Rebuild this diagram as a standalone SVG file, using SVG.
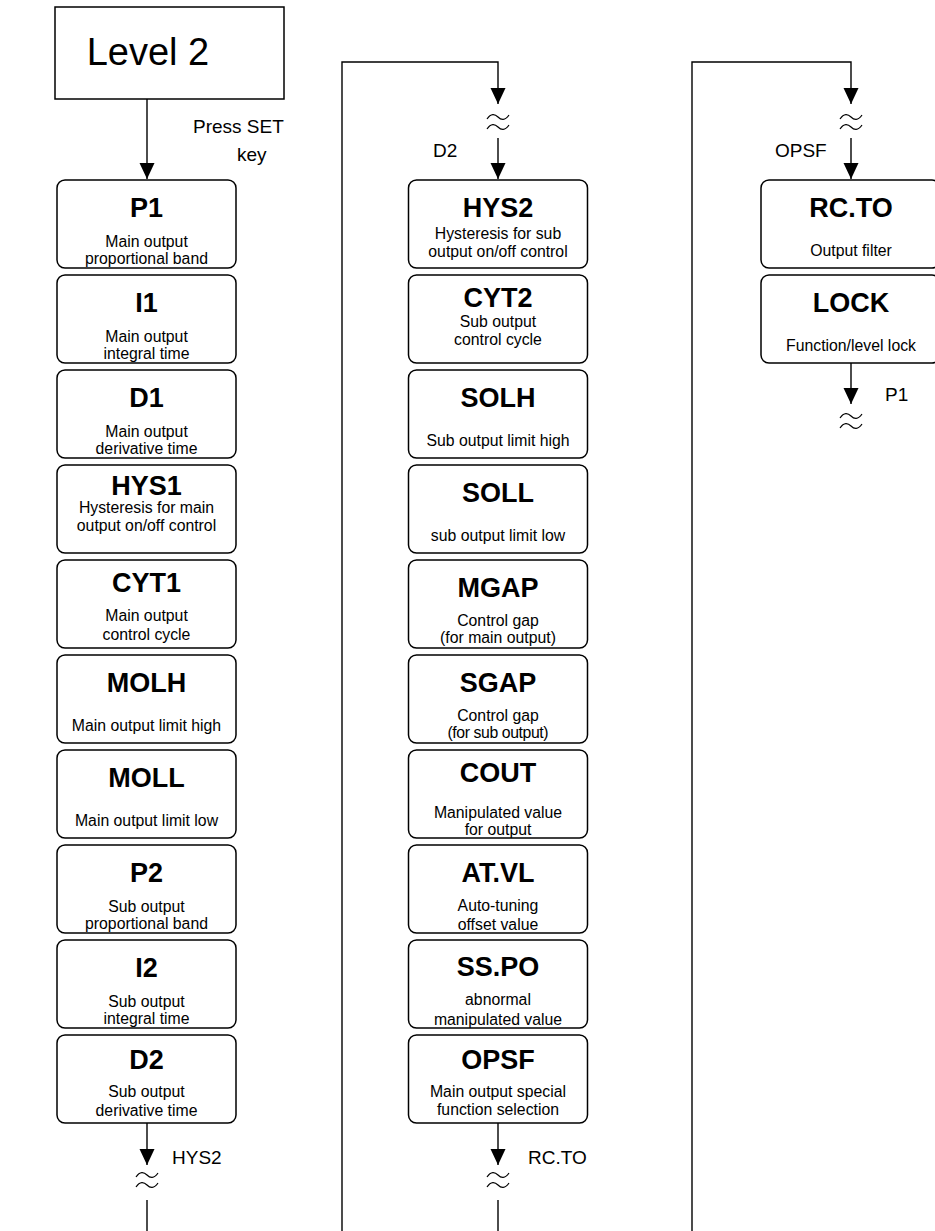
<svg xmlns="http://www.w3.org/2000/svg" width="935" height="1231" viewBox="0 0 935 1231">
<style>
text{font-family:"Liberation Sans",Arial,sans-serif;fill:#000}
.box{fill:#fff;stroke:#000;stroke-width:1.5}
.t{font-size:27px;font-weight:bold;text-anchor:middle}
.s{font-size:15.8px;text-anchor:middle}
.lbl{font-size:19px}
.ln{fill:none;stroke:#000;stroke-width:1.4}
.sq{fill:none;stroke:#000;stroke-width:1.2}
</style>
<defs>
<marker id="ah" markerUnits="userSpaceOnUse" markerWidth="16" markerHeight="16" refX="16" refY="7.5" orient="auto">
<path d="M0,0 L16,7.5 L0,15 Z" fill="#000"/>
</marker>
<path id="sq" d="M-11,2 C-7,-4 -3,-3 0,0 C3,3 7,4 11,-2"/>
</defs>
<rect width="935" height="1231" fill="#fff"/>

<g id="connectors">
<line class="ln" x1="147" y1="99" x2="147" y2="179" marker-end="url(#ah)"/>
<line class="ln" x1="147" y1="1123" x2="147" y2="1165" marker-end="url(#ah)"/>
<use href="#sq" class="sq" x="147" y="1175"/>
<use href="#sq" class="sq" x="147" y="1185"/>
<line class="ln" x1="147" y1="1200" x2="147" y2="1231"/>
<polyline class="ln" points="342,1231 342,62 498,62 498,104" marker-end="url(#ah)"/>
<use href="#sq" class="sq" x="498" y="117"/>
<use href="#sq" class="sq" x="498" y="127"/>
<line class="ln" x1="498" y1="138" x2="498" y2="179" marker-end="url(#ah)"/>
<line class="ln" x1="498" y1="1123" x2="498" y2="1165" marker-end="url(#ah)"/>
<use href="#sq" class="sq" x="498" y="1175"/>
<use href="#sq" class="sq" x="498" y="1185"/>
<line class="ln" x1="498" y1="1200" x2="498" y2="1231"/>
<polyline class="ln" points="692,1231 692,62 851,62 851,104" marker-end="url(#ah)"/>
<use href="#sq" class="sq" x="851" y="117"/>
<use href="#sq" class="sq" x="851" y="127"/>
<line class="ln" x1="851" y1="138" x2="851" y2="179" marker-end="url(#ah)"/>
<line class="ln" x1="851" y1="363" x2="851" y2="404" marker-end="url(#ah)"/>
<use href="#sq" class="sq" x="851" y="416"/>
<use href="#sq" class="sq" x="851" y="426"/>
<text class="lbl" x="193" y="133">Press SET</text>
<text class="lbl" x="237" y="161">key</text>
<text class="lbl" x="172" y="1164">HYS2</text>
<text class="lbl" x="433" y="157">D2</text>
<text class="lbl" x="528" y="1164">RC.TO</text>
<text class="lbl" x="775" y="157">OPSF</text>
<text class="lbl" x="885" y="401">P1</text>
</g>

<g id="n-level2">
<rect x="55" y="7" width="229" height="92" fill="#fff" stroke="#000" stroke-width="1.5"/>
<text x="148" y="65" font-size="38" text-anchor="middle">Level 2</text>
</g>

<g id="n-P1"><rect class="box" x="57" y="180" width="179" height="88" rx="8"/>
<text class="t" x="146.5" y="217">P1</text><text class="s" x="146.5" y="247">Main output</text><text class="s" x="146.5" y="264">proportional band</text></g>
<g id="n-I1"><rect class="box" x="57" y="275" width="179" height="88" rx="8"/>
<text class="t" x="146.5" y="312">I1</text><text class="s" x="146.5" y="342">Main output</text><text class="s" x="146.5" y="359">integral time</text></g>
<g id="n-D1"><rect class="box" x="57" y="370" width="179" height="88" rx="8"/>
<text class="t" x="146.5" y="407">D1</text><text class="s" x="146.5" y="437">Main output</text><text class="s" x="146.5" y="454">derivative time</text></g>
<g id="n-HYS1"><rect class="box" x="57" y="465" width="179" height="88" rx="8"/>
<text class="t" x="146.5" y="495">HYS1</text><text class="s" x="146.5" y="513">Hysteresis for main</text><text class="s" x="146.5" y="531">output on/off control</text></g>
<g id="n-CYT1"><rect class="box" x="57" y="560" width="179" height="88" rx="8"/>
<text class="t" x="146.5" y="592">CYT1</text><text class="s" x="146.5" y="621">Main output</text><text class="s" x="146.5" y="640">control cycle</text></g>
<g id="n-MOLH"><rect class="box" x="57" y="655" width="179" height="88" rx="8"/>
<text class="t" x="146.5" y="692">MOLH</text><text class="s" x="146.5" y="731">Main output limit high</text></g>
<g id="n-MOLL"><rect class="box" x="57" y="750" width="179" height="88" rx="8"/>
<text class="t" x="146.5" y="787">MOLL</text><text class="s" x="146.5" y="826">Main output limit low</text></g>
<g id="n-P2"><rect class="box" x="57" y="845" width="179" height="88" rx="8"/>
<text class="t" x="146.5" y="882">P2</text><text class="s" x="146.5" y="912">Sub output</text><text class="s" x="146.5" y="929">proportional band</text></g>
<g id="n-I2"><rect class="box" x="57" y="940" width="179" height="88" rx="8"/>
<text class="t" x="146.5" y="977">I2</text><text class="s" x="146.5" y="1007">Sub output</text><text class="s" x="146.5" y="1024">integral time</text></g>
<g id="n-D2"><rect class="box" x="57" y="1035" width="179" height="88" rx="8"/>
<text class="t" x="146.5" y="1069">D2</text><text class="s" x="146.5" y="1097">Sub output</text><text class="s" x="146.5" y="1116">derivative time</text></g>

<g id="n-HYS2"><rect class="box" x="408.5" y="180" width="179" height="88" rx="8"/>
<text class="t" x="498" y="217">HYS2</text><text class="s" x="498" y="239">Hysteresis for sub</text><text class="s" x="498" y="257">output on/off control</text></g>
<g id="n-CYT2"><rect class="box" x="408.5" y="275" width="179" height="88" rx="8"/>
<text class="t" x="498" y="307">CYT2</text><text class="s" x="498" y="327">Sub output</text><text class="s" x="498" y="345">control cycle</text></g>
<g id="n-SOLH"><rect class="box" x="408.5" y="370" width="179" height="88" rx="8"/>
<text class="t" x="498" y="407">SOLH</text><text class="s" x="498" y="446">Sub output limit high</text></g>
<g id="n-SOLL"><rect class="box" x="408.5" y="465" width="179" height="88" rx="8"/>
<text class="t" x="498" y="502">SOLL</text><text class="s" x="498" y="541">sub output limit low</text></g>
<g id="n-MGAP"><rect class="box" x="408.5" y="560" width="179" height="88" rx="8"/>
<text class="t" x="498" y="597">MGAP</text><text class="s" x="498" y="626">Control gap</text><text class="s" x="498" y="643">(for main output)</text></g>
<g id="n-SGAP"><rect class="box" x="408.5" y="655" width="179" height="88" rx="8"/>
<text class="t" x="498" y="692">SGAP</text><text class="s" x="498" y="721">Control gap</text><text class="s" x="498" y="738" textLength="101" lengthAdjust="spacing">(for sub output)</text></g>
<g id="n-COUT"><rect class="box" x="408.5" y="750" width="179" height="88" rx="8"/>
<text class="t" x="498" y="782">COUT</text><text class="s" x="498" y="818">Manipulated value</text><text class="s" x="498" y="835">for output</text></g>
<g id="n-ATVL"><rect class="box" x="408.5" y="845" width="179" height="88" rx="8"/>
<text class="t" x="498" y="882">AT.VL</text><text class="s" x="498" y="911">Auto-tuning</text><text class="s" x="498" y="930">offset value</text></g>
<g id="n-SSPO"><rect class="box" x="408.5" y="940" width="179" height="88" rx="8"/>
<text class="t" x="498" y="976">SS.PO</text><text class="s" x="498" y="1005">abnormal</text><text class="s" x="498" y="1025">manipulated value</text></g>
<g id="n-OPSF"><rect class="box" x="408.5" y="1035" width="179" height="88" rx="8"/>
<text class="t" x="498" y="1069">OPSF</text><text class="s" x="498" y="1097">Main output special</text><text class="s" x="498" y="1115">function selection</text></g>

<g id="n-RCTO"><rect class="box" x="761" y="180" width="179" height="88" rx="8"/>
<text class="t" x="851" y="217">RC.TO</text><text class="s" x="851" y="256">Output filter</text></g>
<g id="n-LOCK"><rect class="box" x="761" y="275" width="179" height="88" rx="8"/>
<text class="t" x="851" y="312">LOCK</text><text class="s" x="851" y="351">Function/level lock</text></g>
</svg>
